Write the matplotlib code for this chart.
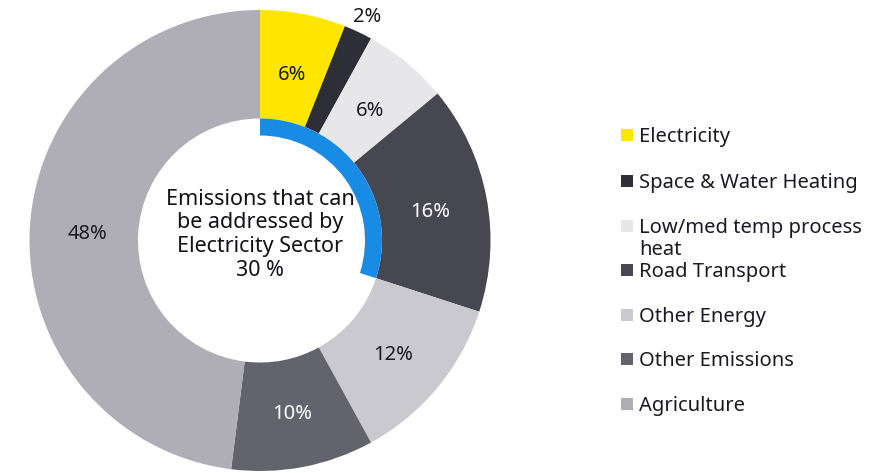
import matplotlib.pyplot as plt
import numpy as np
from matplotlib.patches import Rectangle, Wedge

plt.rcParams["font.family"] = ["Noto Sans", "DejaVu Sans"]

sectors = ["Electricity", "Space & Water Heating", "Low/med temp process\nheat",
           "Road Transport", "Other Energy", "Other Emissions", "Agriculture"]
shares = [6, 2, 6, 16, 12, 10, 48]
colors = ["#FFE600", "#2E2E38", "#E7E7EA", "#474751", "#C9C9CF", "#63636E", "#AFAEB6"]
label_colors = ["#1A1A24", "#1A1A24", "#1A1A24", "white", "#1A1A24", "white", "#1A1A24"]
addressable_share = 30
center_text = "Emissions that can\nbe addressed by\nElectricity Sector\n30 %"

W, H = 887, 473
fig = plt.figure(figsize=(W / 100, H / 100), dpi=100)

# donut: centre (260, 240.5) px, outer radius 230.5 px
cx, cy, R, half = 260, 240.5, 230.5, 250
ax = fig.add_axes([(cx - half) / W, (H - cy - half) / H, 2 * half / W, 2 * half / H])

r_in = 122 / R
wedges, _ = ax.pie(shares, colors=colors, startangle=90, counterclock=False,
                   radius=1, wedgeprops=dict(width=1 - r_in, linewidth=0))

# pie() resets the limits, so fix them afterwards
lim = half / R
ax.set_xlim(-lim, lim)
ax.set_ylim(-lim, lim)
ax.set_aspect("equal")
ax.axis("off")

dy = -4 / R  # nudge the glyphs down onto the wedge centres
for w, val, tc in zip(wedges, shares, label_colors):
    mid = np.deg2rad((w.theta1 + w.theta2) / 2)
    r = 1.09 if val < 4 else 0.75
    ax.text(r * np.cos(mid), r * np.sin(mid) + dy, f"{val}%", ha="center",
            va="center", fontsize=14.5, color=tc)

# blue arc marking the share the electricity sector can address
ax.add_patch(Wedge((0, 0), r_in, 90 - 360 * addressable_share / 100, 90,
                   width=17 / R, color="#188CE5", linewidth=0))

ax.text(0, 0.025, center_text, ha="center", va="center", fontsize=15.5,
        color="#111118", linespacing=1.17)

# legend, drawn by hand so the wrapped label keeps the row spacing
leg_y = [135, 181, 226, 270, 315, 359, 404]
for lab, col, y in zip(sectors, colors, leg_y):
    fig.add_artist(Rectangle((621 / W, 1 - (y + 6) / H), 12 / W, 12 / H,
                             transform=fig.transFigure, color=col, linewidth=0))
    for k, line in enumerate(lab.split("\n")):
        fig.text(639 / W, 1 - (y + 2 + 22 * k) / H, line, ha="left", va="center",
                 fontsize=14.5, color="#1A1A24")

fig.savefig("out.png", dpi=100, facecolor="white")
